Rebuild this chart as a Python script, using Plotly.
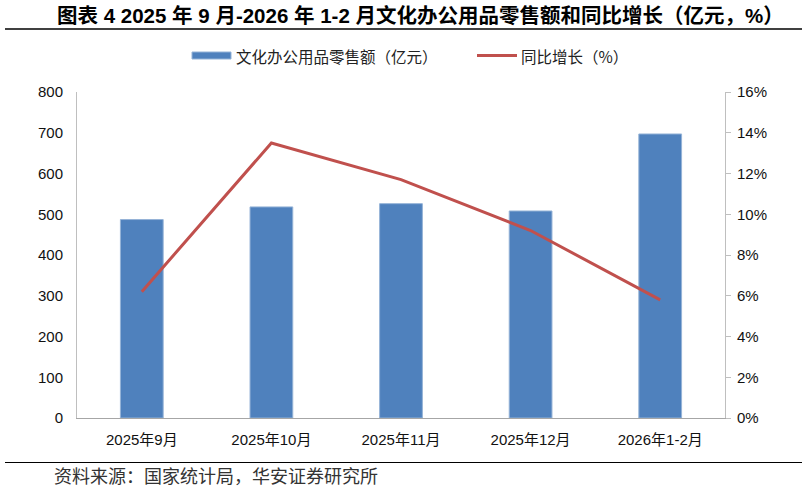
import plotly.graph_objects as go

categories = ["2025年9月", "2025年10月", "2025年11月", "2025年12月", "2026年1-2月"]
sales = [487, 518, 526, 508, 697]          # 亿元
yoy = [6.2, 13.5, 11.7, 9.2, 5.8]          # %

left_ticks = [0, 100, 200, 300, 400, 500, 600, 700, 800]
right_ticks = [0, 2, 4, 6, 8, 10, 12, 14, 16]
right_labels = [f"{v}%" for v in right_ticks]

bar_name = "文化办公用品零售额（亿元）"
line_name = "同比增长（%）"
title_text = "图表 4 2025 年 9 月-2026 年 1-2 月文化办公用品零售额和同比增长（亿元，%）"
source_text = "资料来源：国家统计局，华安证券研究所"

BAR_COLOR = "#4F81BD"
LINE_COLOR = "#C0504D"
font_latin = "Liberation Sans, Arial, Noto Sans CJK SC"
font_cjk = "Noto Sans CJK SC, Liberation Sans"

W, H = 807, 489
pl, pr, pt, pb = 77, 82, 92, 71
pw, ph = W - pl - pr, H - pt - pb
def px(p):
    return (p - pl) / pw
def py(p):
    return (H - pb - p) / ph

fig = go.Figure()
fig.add_trace(go.Bar(
    x=categories, y=sales, name=bar_name,
    marker=dict(color=BAR_COLOR, line=dict(color="#95B3D7", width=1)),
    width=0.33,
))
fig.add_trace(go.Scatter(
    x=categories, y=yoy, name=line_name, yaxis="y2",
    mode="lines", line=dict(color=LINE_COLOR, width=3),
))

tickfont = dict(family=font_latin, size=15, color="#111")
fig.update_layout(
    width=W, height=H,
    margin=dict(l=pl, r=pr, t=pt, b=pb),
    plot_bgcolor="white", paper_bgcolor="white",
    showlegend=False,
    xaxis=dict(showline=True, linecolor="#A6A6A6", linewidth=1, ticks="",
               tickfont=tickfont, ticklabelstandoff=8),
    yaxis=dict(range=[0, 800], tickvals=left_ticks, showgrid=False,
               showline=True, linecolor="#BFBFBF", linewidth=1, ticks="",
               tickfont=tickfont, zeroline=False, ticklabelstandoff=10),
    yaxis2=dict(range=[0, 16], tickvals=right_ticks, ticktext=right_labels,
                overlaying="y", side="right", showgrid=False,
                showline=True, linecolor="#BFBFBF", linewidth=1,
                ticks="outside", ticklen=5, tickcolor="#BFBFBF",
                tickfont=tickfont, zeroline=False, ticklabelstandoff=3),
)

# title
fig.add_annotation(
    text="<b>" + title_text + "</b>",
    xref="paper", yref="paper", x=px(420), y=py(15), xanchor="center", yanchor="middle",
    showarrow=False, font=dict(family=font_latin, size=20.5, color="#000"),
)
# source
fig.add_annotation(
    text=source_text,
    xref="paper", yref="paper", x=px(52), y=py(475), xanchor="left", yanchor="middle",
    showarrow=False, font=dict(family=font_cjk, size=18, color="#333"),
)
# manual legend
fig.add_shape(type="rect", xref="paper", yref="paper",
              x0=px(192), x1=px(231), y0=py(52), y1=py(59),
              fillcolor=BAR_COLOR, line=dict(color="#95B3D7", width=1))
fig.add_annotation(text=bar_name, xref="paper", yref="paper",
                   x=px(234), y=py(55.5), xanchor="left", yanchor="middle",
                   showarrow=False, font=dict(family=font_cjk, size=15.5, color="#222"))
fig.add_shape(type="line", xref="paper", yref="paper",
              x0=px(477), x1=px(517), y0=py(55.5), y1=py(55.5),
              line=dict(color=LINE_COLOR, width=3))
fig.add_annotation(text=line_name, xref="paper", yref="paper",
                   x=px(519), y=py(55.5), xanchor="left", yanchor="middle",
                   showarrow=False, font=dict(family=font_cjk, size=15.5, color="#222"))

# rules
fig.add_shape(type="line", xref="paper", yref="paper",
              x0=px(5), x1=px(802), y0=py(29), y1=py(29),
              line=dict(color="#000", width=1.5))
fig.add_shape(type="line", xref="paper", yref="paper",
              x0=px(5), x1=px(802), y0=py(462.5), y1=py(462.5),
              line=dict(color="#000", width=1))

fig.write_html("out.html", config={"displayModeBar": False},
               post_script="document.body.style.margin='0';")
